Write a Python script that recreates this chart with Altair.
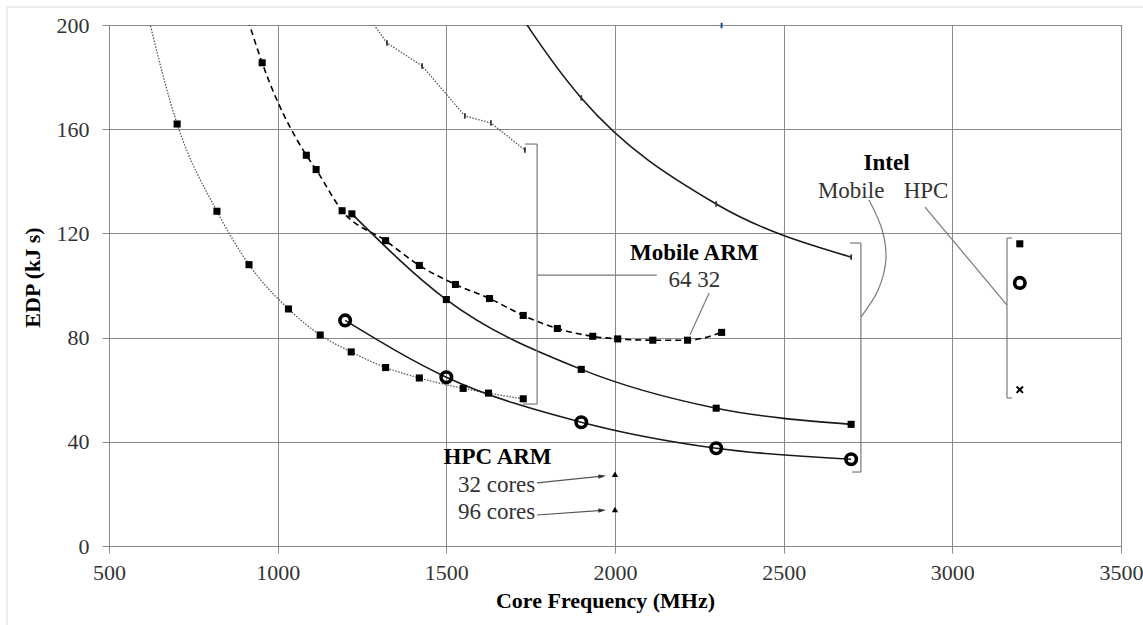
import altair as alt
import pandas as pd

# ---------------- data ----------------
# Mobile ARM, 32 cores (dotted, squares)
m32_x = [600, 702, 820, 915, 1032, 1126, 1218, 1320, 1420, 1550, 1625, 1728]
m32_y = [212, 162, 128.5, 108, 91, 81, 74.5, 68.5, 64.5, 60.5, 58.7, 56.5]
# Mobile ARM, 64 cores (dashed, squares)
m64_x = [912, 954, 1085, 1114, 1191, 1320, 1420, 1527, 1628, 1728, 1829, 1934, 2008, 2112, 2215, 2316]
m64_y = [202, 185.5, 150, 144.5, 128.7, 117.2, 107.7, 100.4, 95, 88.5, 83.5, 80.5, 79.5, 79, 79, 82]
# HPC ARM, solid squares
hs_x = [1220, 1500, 1900, 2300, 2700]
hs_y = [127.5, 94.6, 67.8, 52.9, 46.7]
# HPC ARM, solid circles
hc_x = [1200, 1500, 1900, 2300, 2700]
hc_y = [86.6, 64.8, 47.5, 37.5, 33.3]
# Mobile ARM upper dotted series (tick markers)
mt_x = [1275, 1324, 1428, 1555, 1632, 1733]
mt_y = [202, 193.1, 184.3, 165.1, 162.4, 152]
# Intel Mobile (solid, tick markers)
im_x = [1600, 1900, 2300, 2700]
im_y = [228, 172, 131.3, 110.9]
# clipped series at top
tp_x = [2270, 2316]
tp_y = [201, 199.8]
# Intel HPC points at 3200 MHz
ih_x = [3200]
ih_sq = [116]
ih_ci = [101]
ih_x_mark = [60]
# HPC ARM single points (32 cores, 96 cores)
ha_x = [2000, 2000]
ha_y = [27.5, 14]

x_ticks = [500, 1000, 1500, 2000, 2500, 3000, 3500]
y_ticks = [0, 40, 80, 120, 160, 200]

# annotation segments: x, y, x2, y2
seg_x = [1733, 1769, 1727, 1769, 2729, 2697, 2703, 3162, 3162, 3162, 2919, 2279]
seg_y = [154.3, 154.3, 54.5, 104, 116.3, 116.3, 28.4, 118.2, 118.2, 56.8, 130.1, 97.1]
seg_x2 = [1769, 1769, 1769, 2124, 2729, 2729, 2729, 3162, 3177, 3177, 3162, 2222]
seg_y2 = [154.3, 54.5, 54.5, 104, 28.4, 116.3, 28.4, 56.8, 118.2, 56.8, 92.5, 81]

# curved leader from "Mobile" (Intel)
cv_x = [2753, 2792, 2803, 2780, 2729]
cv_y = [132.8, 121.3, 109.8, 98.3, 87.9]

# arrows to HPC ARM points
ar_x = [1769, 1962, 1769, 1962]
ar_y = [24.2, 26.8, 11.9, 13.7]
ar_g = ["a", "a", "b", "b"]

labels_txt = ["Mobile ARM", "64 32", "Intel", "Mobile", "HPC", "HPC ARM", "32 cores", "96 cores"]
labels_x = [2235, 2235, 2805, 2700, 2922, 1652, 1649, 1649]
labels_y = [112.5, 102, 147, 136.3, 136.3, 34.3, 23.4, 13]
labels_w = ["bold", "normal", "bold", "normal", "normal", "bold", "normal", "normal"]

# ---------------- chart ----------------
FONT = "Liberation Serif"
xs = alt.Scale(domain=[500, 3500], nice=False, zero=False)
ys = alt.Scale(domain=[0, 200], nice=False)

X_AX = alt.Axis(values=x_ticks, format="d", title="Core Frequency (MHz)", titleX=496, titleY=61,
                titleBaseline="alphabetic", titleAlign="center", labelPadding=9,
                labelFlush=False)
Y_AX = alt.Axis(values=y_ticks, format="d", title="EDP (kJ s)", titleX=-77, titleY=252,
                titleAngle=270, titleBaseline="middle", titleAlign="center",
                labelPadding=13)

XE = alt.X("x:Q", scale=xs, axis=X_AX)
YE = alt.Y("y:Q", scale=ys, axis=Y_AX)


def df(xv, yv):
    return pd.DataFrame({"x": xv, "y": yv})


def enc(base):
    return base.encode(x=XE, y=YE)


layers = []

# faint outer frame of the figure
layers.append(alt.Chart(pd.DataFrame({"a": [0]})).mark_rect(fill=None, stroke="#dcdcdc", strokeWidth=1).encode(
    x=alt.value(-102), x2=alt.value(1060), y=alt.value(-18), y2=alt.value(640)))

GRAY_DOT = "#555555"
# series lines
layers.append(enc(alt.Chart(df(m32_x, m32_y)).mark_line(clip=True, interpolate="monotone", color=GRAY_DOT, strokeWidth=1.3, strokeDash=[1.5, 1.5])))
layers.append(enc(alt.Chart(df(m64_x, m64_y)).mark_line(clip=True, interpolate="monotone", color="black", strokeWidth=1.6, strokeDash=[6, 4])))
layers.append(enc(alt.Chart(df(hs_x, hs_y)).mark_line(clip=True, interpolate="monotone", color="#1a1a1a", strokeWidth=1.6)))
layers.append(enc(alt.Chart(df(hc_x, hc_y)).mark_line(clip=True, interpolate="monotone", color="#1a1a1a", strokeWidth=1.6)))
layers.append(enc(alt.Chart(df(mt_x, mt_y)).mark_line(clip=True, color=GRAY_DOT, strokeWidth=1.3, strokeDash=[1.5, 1.5])))
layers.append(enc(alt.Chart(df(im_x, im_y)).mark_line(clip=True, interpolate="monotone", color="#1a1a1a", strokeWidth=1.6)))
layers.append(enc(alt.Chart(df(tp_x, tp_y)).mark_line(clip=True, color="#888888", strokeWidth=1.2)))

# annotation segments
seg = pd.DataFrame({"x": seg_x, "y": seg_y, "x2": seg_x2, "y2": seg_y2})
layers.append(alt.Chart(seg).mark_rule(color="#7a7a7a", strokeWidth=1.2).encode(
    x=XE, y=YE, x2="x2:Q", y2="y2:Q"))
cv = pd.DataFrame({"x": cv_x, "y": cv_y, "o": list(range(len(cv_x)))})
layers.append(alt.Chart(cv).mark_line(color="#7a7a7a", strokeWidth=1.2, interpolate="cardinal").encode(
    x=XE, y=YE, order="o:Q"))
ar = pd.DataFrame({"x": ar_x, "y": ar_y, "g": ar_g})
layers.append(alt.Chart(ar).mark_line(color="#555555", strokeWidth=1.2).encode(
    x=XE, y=YE, detail="g:N"))
ah = ar[ar.index % 2 == 1]
layers.append(alt.Chart(ah).mark_point(shape="M-1,-0.55L1,0L-1,0.55Z", filled=True, color="#333333",
                                        size=60, angle=354, opacity=1).encode(x=XE, y=YE))

# markers
SQ = dict(shape="square", filled=True, color="black", size=50, opacity=1, clip=True)
layers.append(enc(alt.Chart(df(m32_x, m32_y)).mark_point(**SQ)))
layers.append(enc(alt.Chart(df(m64_x, m64_y)).mark_point(**SQ)))
layers.append(enc(alt.Chart(df(hs_x, hs_y)).mark_point(**SQ)))
layers.append(enc(alt.Chart(df(ih_x, ih_sq)).mark_point(**SQ)))
RING = dict(shape="circle", filled=False, color="black", size=110, strokeWidth=3.6, opacity=1, clip=True)
layers.append(enc(alt.Chart(df(hc_x, hc_y)).mark_point(**RING)))
layers.append(enc(alt.Chart(df(ih_x, ih_ci)).mark_point(**RING)))
TICK = dict(shape="M0,-1L0,1", filled=False, color="#333333", size=30, strokeWidth=1.8, opacity=1, clip=True)
layers.append(enc(alt.Chart(df(mt_x, mt_y)).mark_point(**TICK)))
layers.append(enc(alt.Chart(df(im_x, im_y)).mark_point(**TICK)))
layers.append(enc(alt.Chart(df(tp_x[1:], tp_y[1:])).mark_point(shape="M0,-1L0,1", filled=False, color="#1f4e8c",
                                                              size=30, strokeWidth=2, opacity=1)))
layers.append(enc(alt.Chart(df(ih_x, ih_x_mark)).mark_point(shape="M-1,-1L1,1M1,-1L-1,1", filled=False, color="black",
                                                            size=40, strokeWidth=2, opacity=1)))
layers.append(enc(alt.Chart(df(ha_x, ha_y)).mark_point(shape="triangle-up", filled=True, color="black", size=40, opacity=1)))

# text labels
lab = pd.DataFrame({"x": labels_x, "y": labels_y, "t": labels_txt, "w": labels_w})
layers.append(alt.Chart(lab[lab.w == "bold"]).mark_text(font=FONT, fontSize=23, fontWeight="bold", color="black",
                                                         align="center", baseline="middle").encode(
    x=XE, y=YE, text="t:N"))
layers.append(alt.Chart(lab[lab.w == "normal"]).mark_text(font=FONT, fontSize=23, color="#333333",
                                                           align="center", baseline="middle").encode(
    x=XE, y=YE, text="t:N"))

chart = alt.layer(*layers).properties(
    width=1012, height=521,
    autosize=alt.AutoSizeParams(type="none"),
    padding={"left": 109, "top": 25, "right": 22, "bottom": 79},
    background="white",
).configure_view(stroke="#8a8a8a", strokeWidth=1).configure_axis(
    labelFont=FONT, labelFontSize=22, labelColor="#333333",
    titleFont=FONT, titleFontSize=22, titleFontWeight="bold", titleColor="black",
    grid=True, gridColor="#8a8a8a", gridWidth=1, domainColor="#8a8a8a", domainWidth=1,
    tickColor="#8a8a8a", tickSize=7, tickWidth=1,
)

chart.save("out.html", embed_options={"renderer": "svg", "actions": False})
